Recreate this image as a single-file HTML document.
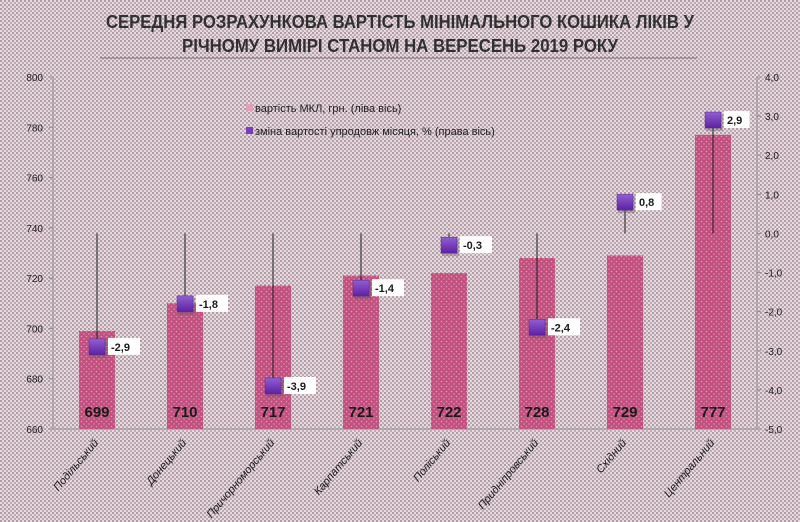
<!DOCTYPE html>
<html><head><meta charset="utf-8"><style>
html,body{margin:0;padding:0;background:#e2d2d9;}
svg{display:block;font-family:"Liberation Sans",sans-serif;}
</style></head><body>
<svg id="chart" width="800" height="522" viewBox="0 0 800 522" xmlns="http://www.w3.org/2000/svg">
<defs>
<pattern id="bgdots" width="4" height="4" patternUnits="userSpaceOnUse">
<rect width="4" height="4" fill="#e8d9e0"/>
<circle cx="1" cy="1" r="0.9" fill="#857379"/>
<circle cx="3" cy="3" r="0.9" fill="#9c8a92"/>
</pattern>
<pattern id="bardots" width="5" height="5" patternUnits="userSpaceOnUse">
<rect width="5" height="5" fill="#c2507f"/>
<circle cx="1.5" cy="1.5" r="0.8" fill="#de98b6"/>
<circle cx="4" cy="4" r="0.7" fill="#de98b6"/>
</pattern>
<linearGradient id="mk" x1="0" y1="0" x2="0" y2="1">
<stop offset="0" stop-color="#9060d0"/><stop offset="1" stop-color="#5e20a4"/>
</linearGradient>
</defs>
<rect width="800" height="522" fill="url(#bgdots)"/>
<g font-weight="bold" font-size="18" fill="#303030" text-anchor="middle">
<text x="400" y="28" textLength="588" lengthAdjust="spacingAndGlyphs">СЕРЕДНЯ РОЗРАХУНКОВА ВАРТІСТЬ МІНІМАЛЬНОГО  КОШИКА ЛІКІВ У</text>
<text x="400" y="52" textLength="436" lengthAdjust="spacingAndGlyphs">РІЧНОМУ ВИМІРІ СТАНОМ НА ВЕРЕСЕНЬ 2019 РОКУ</text>
</g>
<line x1="100" y1="58" x2="697" y2="58" stroke="#8a7a80" stroke-width="1"/>
<g id="plot"></g>
<g font-size="11" fill="#202020">
<rect x="246" y="104" width="7" height="7" fill="#e0a0b8"/>
<text x="255" y="112">вартість МКЛ, грн. (ліва  вісь)</text>
<rect x="246" y="127" width="7" height="7" fill="#7a3cc0"/>
<text x="255" y="135">зміна вартості упродовж місяця, % (права вісь)</text>
</g>
</svg>
<script>
const categories=["Подільський","Донецький","Причорноморський","Карпатський","Поліський","Придніпровський","Східний","Центральний"];
const costValues=[699,710,717,721,722,728,729,777];
const changeValues=[-2.9,-1.8,-3.9,-1.4,-0.3,-2.4,0.8,2.9];
const leftTicks=[660,680,700,720,740,760,780,800];
const rightTicks=[-5,-4,-3,-2,-1,0,1,2,3,4];

const NS="http://www.w3.org/2000/svg";
const plotL=53,plotR=757,plotT=77,plotB=429;
const yL=v=>plotB-(v-660)/(800-660)*(plotB-plotT);
const yR=v=>plotB-(v+5)/(4+5)*(plotB-plotT);
const band=(plotR-plotL)/categories.length;
const xC=i=>plotL+band*(i+0.5);
const g=document.getElementById('plot');
function mk(tag,attrs,parent){const e=document.createElementNS(NS,tag);for(const k in attrs)e.setAttribute(k,attrs[k]);(parent||g).appendChild(e);return e;}

let a=mk('line',{x1:plotL,y1:plotT,x2:plotL,y2:plotB,stroke:'#8a8a8a'});


a=mk('line',{x1:plotR,y1:plotT,x2:plotR,y2:plotB,stroke:'#8a8a8a'});


a=mk('line',{x1:plotL,y1:plotB,x2:plotR,y2:plotB,stroke:'#8a8a8a'});



leftTicks.forEach(v=>{
 const t=mk('text',{x:plotL-10,y:yL(v)+4,'text-anchor':'end','font-size':10,fill:'#202020'});
 t.textContent=v;
 
 
 mk('line',{x1:plotL-4,y1:yL(v),x2:plotL,y2:yL(v),stroke:'#8a8a8a'});
});
rightTicks.forEach(v=>{
 const t=mk('text',{x:plotR+8,y:yR(v)+4,'font-size':10,fill:'#202020'});
 t.textContent=v.toFixed(1).replace('.',',');
 
 
 mk('line',{x1:plotR,y1:yR(v),x2:plotR+4,y2:yR(v),stroke:'#8a8a8a'});
});

const bw=36;
costValues.forEach((v,i)=>{
 const r=mk('rect',{x:xC(i)-bw/2,y:yL(v),width:bw,height:plotB-yL(v),fill:'url(#bardots)'});
 
 
 const t=mk('text',{x:xC(i),y:plotB-12,'text-anchor':'middle','font-size':15,'font-weight':'bold',fill:'#1a1a1a'});
 t.textContent=v;
 
 
 const c=mk('text',{transform:`translate(${xC(i)+2},${plotB+14}) rotate(-50)`,'text-anchor':'end','font-size':11,'font-style':'italic',fill:'#1a1a1a'});
 c.textContent=categories[i];
 
 
});

changeValues.forEach((v,i)=>{
 const x=xC(i),y=yR(v);
 const l=mk('line',{x1:x,y1:yR(0),x2:x,y2:y,stroke:'#1a1a1a','stroke-width':1});
 
 
 mk('rect',{x:x-7,y:y-6,width:17,height:17,fill:'#555','opacity':0.35});
 const m=mk('rect',{x:x-8,y:y-8,width:16,height:16,fill:'url(#mk)',stroke:'#5a2a90','stroke-width':0.5});
 
 
 const lab=v.toFixed(1).replace('.',',');
 const w=lab.length*6.5+6;
 const b=mk('rect',{x:x+11,y:y-9,width:w,height:17,fill:'#ffffff'});
 
 
 const t=mk('text',{x:x+14,y:y+4,'font-size':11,'font-weight':'bold',fill:'#1a1a1a'});
 t.textContent=lab;
 
 
});
</script>
</body></html>
